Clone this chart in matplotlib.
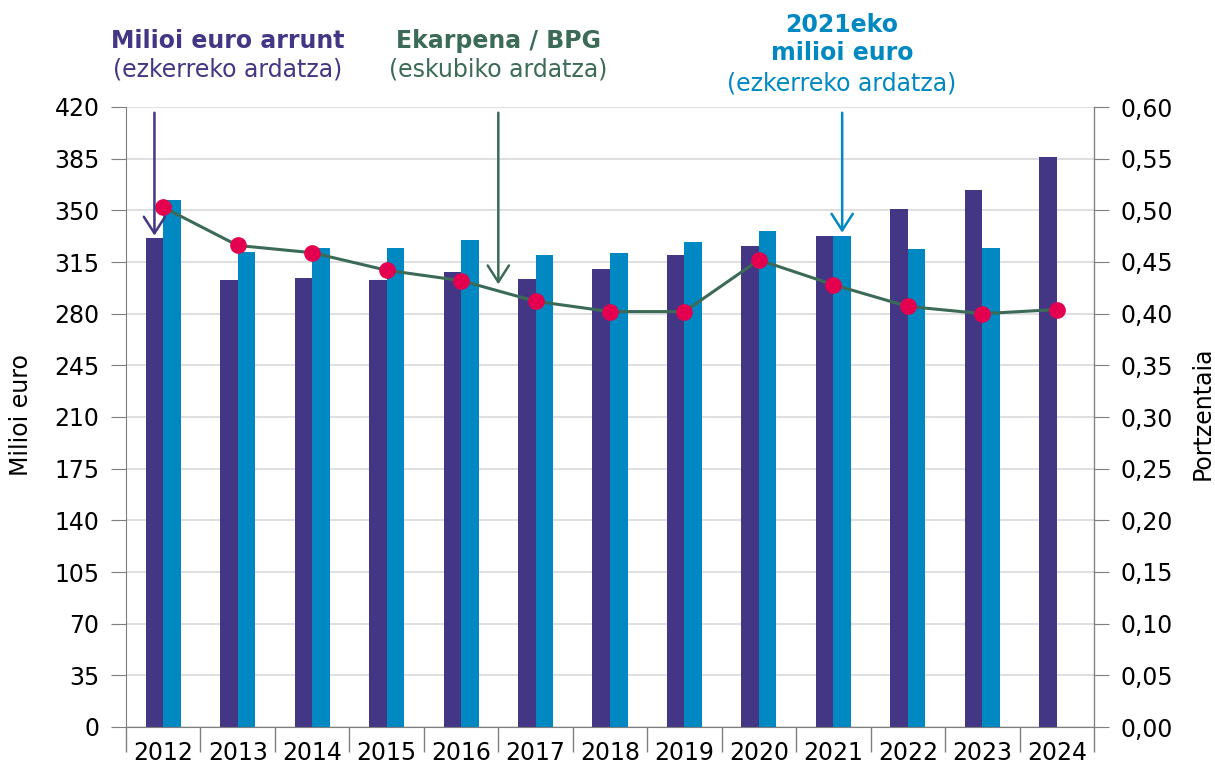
import numpy as np
import matplotlib
matplotlib.use("Agg")
import matplotlib.pyplot as plt

PURPLE = "#433785"
BLUE = "#0088C2"
GREEN = "#3B6B56"
RED = "#E4004F"

years = ["2012", "2013", "2014", "2015", "2016", "2017", "2018",
         "2019", "2020", "2021", "2022", "2023", "2024"]
current_eur = [331, 303, 304, 303, 308, 303.5, 310, 320, 326, 332.5, 351, 364, 386]
real_2021_eur = [357, 322, 324.5, 324.5, 330, 320, 321, 328.5, 336, 332.5, 324, 324.5, np.nan]
share_gdp = [0.503, 0.466, 0.459, 0.442, 0.432, 0.412, 0.402, 0.402,
             0.452, 0.428, 0.407, 0.400, 0.404]

plt.rcParams.update({"font.family": "DejaVu Sans", "font.size": 17})

fig = plt.figure(figsize=(12.15, 7.65), dpi=100)
ax = fig.add_axes([126 / 1215, 38 / 765, 968 / 1215, 620 / 765])
ax2 = ax.twinx()

x = np.arange(len(years))
w = 0.236
ax.bar(x - w / 2, current_eur, w, color=PURPLE, zorder=2)
ax.bar(x + w / 2, real_2021_eur, w, color=BLUE, zorder=2)

ax.set_xlim(-0.5, len(years) - 0.5)
ax.set_ylim(0, 420)
ax.set_yticks(np.arange(0, 421, 35))
ax.yaxis.grid(True, color="#d9d9d9", lw=1.2, zorder=0)
ax.set_axisbelow(True)
ax.set_xticks(np.arange(-0.5, len(years)), [])
ax.set_xticks(x, years, minor=True)
ax.tick_params(axis="x", which="major", length=18, color="#7f7f7f", width=1)
ax.tick_params(axis="x", which="minor", length=0, pad=10)
ax.tick_params(axis="y", length=11, color="#7f7f7f", pad=8)
ax.spines["top"].set_visible(False)
ax2.spines["top"].set_visible(False)
for s in ["left", "bottom"]:
    ax.spines[s].set_color("#7f7f7f")
ax2.spines["right"].set_color("#7f7f7f")
ax2.spines["left"].set_visible(False)
ax2.spines["bottom"].set_visible(False)

ax2.plot(x, share_gdp, color=GREEN, lw=2.2, marker="o", ms=11,
         mfc=RED, mec=RED, zorder=3)
ax2.set_ylim(0, 0.6)
ax2.set_yticks(np.arange(0, 0.61, 0.05))
ax2.set_yticklabels([f"{v:.2f}".replace(".", ",") for v in np.arange(0, 0.61, 0.05)])
ax2.tick_params(axis="y", length=11, color="#7f7f7f", pad=8)

# annotations (arrows placed in right-axis coords, values from left axis / 700)
arrow = dict(arrowstyle="->,head_length=0.7,head_width=0.45", lw=1.8)
ax2.annotate("", xy=(-w / 2, 331 / 700), xytext=(-w / 2, 418 / 700),
             arrowprops=dict(arrow, color=PURPLE), annotation_clip=False)
ax2.annotate("", xy=(4.5, 298 / 700), xytext=(4.5, 418 / 700),
             arrowprops=dict(arrow, color=GREEN), annotation_clip=False)
ax2.annotate("", xy=(9 + w / 2, 333 / 700), xytext=(9 + w / 2, 418 / 700),
             arrowprops=dict(arrow, color=BLUE), annotation_clip=False)

def ftext(px, py, s, color, bold=False, rot=0):
    fig.text(px / 1215, 1 - py / 765, s, color=color, ha="center", va="center",
             fontsize=17, fontweight="bold" if bold else "normal", rotation=rot)

ftext(228, 41, "Milioi euro arrunt", PURPLE, True)
ftext(228, 70, "(ezkerreko ardatza)", PURPLE)
ftext(498, 41, "Ekarpena / BPG", GREEN, True)
ftext(498, 70, "(eskubiko ardatza)", GREEN)
ftext(842, 25, "2021eko", BLUE, True)
ftext(842, 53, "milioi euro", BLUE, True)
ftext(842, 83, "(ezkerreko ardatza)", BLUE)
ftext(21, 415, "Milioi euro", "black", rot=90)
ftext(1203, 413, "Portzentaia", "black", rot=90)

fig.savefig("out.png", dpi=100)
